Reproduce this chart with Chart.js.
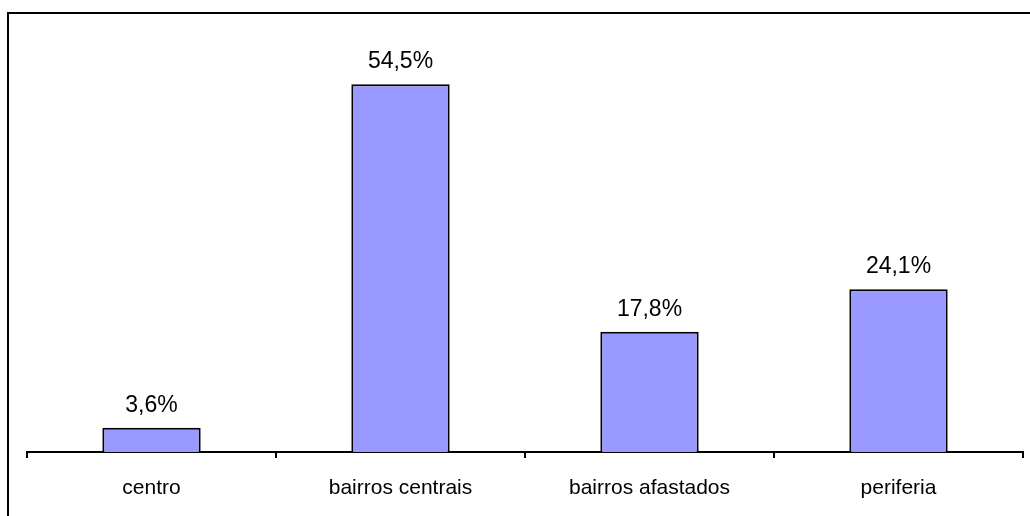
<!DOCTYPE html>
<html>
<head>
<meta charset="utf-8">
<script src="https://cdn.jsdelivr.net/npm/chart.js@4"></script>
<style>
  html, body { margin: 0; padding: 0; background: #fff; }
  #wrap { width: 1030px; height: 516px; }
</style>
</head>
<body>
<div id="wrap"><canvas id="bar-chart" width="1030" height="516"></canvas></div>
<script>
var categories = ["centro", "bairros centrais", "bairros afastados", "periferia"];
var percentValues = [3.6, 54.5, 17.8, 24.1];
var valueLabels = ["3,6%", "54,5%", "17,8%", "24,1%"];

// outer frame, only top and left edges fall inside the picture
var framePlugin = {
  id: "frame",
  beforeDraw: function (chart) {
    var c = chart.ctx;
    c.save();
    c.fillStyle = "#fff";
    c.fillRect(0, 0, chart.width, chart.height);
    c.strokeStyle = "#000";
    c.lineWidth = 2;
    c.beginPath();
    c.moveTo(8, chart.height + 5);
    c.lineTo(8, 13);
    c.lineTo(chart.width + 5, 13);
    c.stroke();
    c.restore();
  }
};

var valueLabelPlugin = {
  id: "valueLabels",
  afterDatasetsDraw: function (chart) {
    var c = chart.ctx;
    var meta = chart.getDatasetMeta(0);
    c.save();
    c.font = "23px 'Liberation Sans', Arial, sans-serif";
    c.fillStyle = "#000";
    c.textAlign = "center";
    c.textBaseline = "alphabetic";
    meta.data.forEach(function (bar, i) {
      c.fillText(valueLabels[i], bar.x, bar.y - 16);
    });
    c.restore();
  }
};

var ctx = document.getElementById("bar-chart");
var barChart = new Chart(ctx, {
  type: "bar",
  data: {
    labels: categories,
    datasets: [
      {
        label: "%",
        data: percentValues,
        backgroundColor: "#9999FF",
        borderColor: "#000",
        borderWidth: 2,
        barPercentage: 0.79,
        categoryPercentage: 0.5
      }
    ]
  },
  options: {
    responsive: false,
    animation: false,
    layout: { padding: { left: 27, right: 7, top: 47, bottom: 0 } },
    plugins: {
      legend: { display: false },
      tooltip: { enabled: false }
    },
    scales: {
      x: {
        afterFit: function (scale) { scale.height = 64; },
        grid: {
          offset: true,
          drawOnChartArea: false,
          drawTicks: true,
          tickLength: 6,
          color: "#000",
          lineWidth: 2
        },
        border: { display: true, color: "#000", width: 2 },
        ticks: {
          color: "#000",
          padding: 18,
          font: { family: "'Liberation Sans', Arial, sans-serif", size: 21 }
        }
      },
      y: {
        display: false,
        min: 0,
        max: 60
      }
    }
  },
  plugins: [framePlugin, valueLabelPlugin]
});
</script>
</body>
</html>
